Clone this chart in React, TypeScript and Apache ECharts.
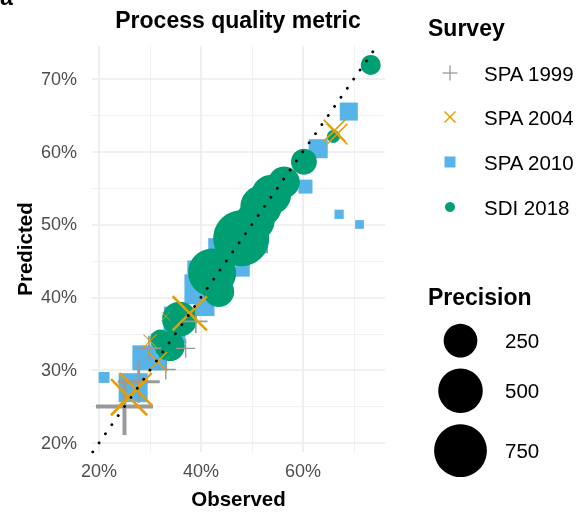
import React, { useEffect, useRef } from "react";
import * as echarts from "echarts";

const FONT = '"Liberation Sans", Arial, Helvetica, sans-serif';

// [observed %, predicted %, precision]
const spa1999: number[][] = [
  [25.0, 25.0, 897],
  [27.8, 28.4, 435],
  [29.8, 33.0, 111],
  [33.1, 30.1, 56],
  [37.0, 33.0, 48],
  [39.0, 36.7, 90],
];
const spa2004: number[][] = [
  [25.9, 26.3, 340],
  [27.2, 27.4, 256],
  [31.5, 31.2, 56],
  [30.0, 34.0, 15],
  [33.1, 37.4, 1],
  [37.8, 37.8, 296],
  [66.2, 62.9, 87],
  [66.7, 62.4, 75],
];
const spa2010: number[][] = [
  [69.0, 65.5, 40],
  [63.0, 60.4, 48],
  [60.5, 55.2, 15],
  [67.1, 51.4, 1],
  [71.1, 50.0, 0.5],
  [49.1, 48.1, 32],
  [51.2, 47.4, 56],
  [48.2, 43.8, 15],
  [45.9, 48.9, 11],
  [42.6, 47.3, 7],
  [38.7, 44.1, 15],
  [39.7, 41.1, 184],
  [40.7, 38.8, 56],
  [33.9, 37.9, 7],
  [34.8, 35.2, 76],
  [31.3, 34.2, 7],
  [29.0, 31.7, 111],
  [31.9, 31.0, 20],
  [26.7, 27.6, 168],
  [21.0, 29.0, 4],
];
const sdi2018: number[][] = [
  [73.3, 71.9, 56],
  [66.0, 62.1, 11],
  [60.2, 58.6, 124],
  [56.3, 55.8, 210],
  [53.8, 54.1, 380],
  [51.8, 52.5, 420],
  [50.6, 50.5, 370],
  [50.0, 49.7, 250],
  [47.9, 48.1, 860],
  [42.2, 43.4, 600],
  [43.5, 40.8, 200],
  [35.8, 37.0, 275],
  [34.2, 37.4, 20],
  [33.9, 33.3, 184],
  [32.0, 34.2, 56],
];

const xTicks = [20, 40, 60];
const yTicks = [20, 30, 40, 50, 60, 70];
const xMinor = [30, 50, 70];
const yMinor = [25, 35, 45, 55, 65];
const precisionBreaks = [250, 500, 750];
const surveyNames = ["SPA 1999", "SPA 2004", "SPA 2010", "SDI 2018"];

const X_MIN = 18.63, X_MAX = 76.1, Y_MIN = 18.77, Y_MAX = 74.5;

const sizeOf = (p: number) => 7.6 + 1.65 * Math.sqrt(p);

const PLUS = "path://M46.5,0 L53.5,0 L53.5,46.5 L100,46.5 L100,53.5 L53.5,53.5 L53.5,100 L46.5,100 L46.5,53.5 L0,53.5 L0,46.5 L46.5,46.5 Z";
const d = 5;
const CROSS = `path://M0,${d} L${d},0 L50,${50 - d} L${100 - d},0 L100,${d} L${50 + d},50 L100,${100 - d} L${100 - d},100 L50,${50 + d} L${d},100 L0,${100 - d} L${50 - d},50 Z`;

export default function App() {
  const ref = useRef<HTMLDivElement>(null);
  useEffect(() => {
    if (!ref.current) return;
    const chart = echarts.init(ref.current, null, { renderer: "svg" });
    const major = { color: "#EBEBEB", width: 1.6, type: "solid" };
    const minor = { color: "#EFEFEF", width: 0.9, type: "solid" };
    const gridLines = [
      ...xTicks.map((v) => ({ xAxis: v, lineStyle: major })),
      ...xMinor.map((v) => ({ xAxis: v, lineStyle: minor })),
      ...yTicks.map((v) => ({ yAxis: v, lineStyle: major })),
      ...yMinor.map((v) => ({ yAxis: v, lineStyle: minor })),
    ];
    const legendY = [73, 117, 162, 207];
    const colors = ["#999999", "#E69F00", "#56B4E9", "#009E73"];
    const precY = [340.7, 390.7, 450.7];
    const graphic: any[] = [
      { type: "text", x: 0, y: -3, style: { text: "a", font: `bold 23px ${FONT}`, fill: "#000", verticalAlign: "middle" } },
      { type: "text", x: 238, y: 20, style: { text: "Process quality metric", font: `bold 23px ${FONT}`, fill: "#000", align: "center", verticalAlign: "middle" } },
      { type: "text", x: 428, y: 28, style: { text: "Survey", font: `bold 23px ${FONT}`, fill: "#000", verticalAlign: "middle" } },
      { type: "line", shape: { x1: 442.5, y1: 73, x2: 457.5, y2: 73 }, style: { stroke: colors[0], lineWidth: 1.3 } },
      { type: "line", shape: { x1: 450, y1: 65.5, x2: 450, y2: 80.5 }, style: { stroke: colors[0], lineWidth: 1.3 } },
      { type: "line", shape: { x1: 444.5, y1: 111.5, x2: 455.5, y2: 122.5 }, style: { stroke: colors[1], lineWidth: 1.5 } },
      { type: "line", shape: { x1: 444.5, y1: 122.5, x2: 455.5, y2: 111.5 }, style: { stroke: colors[1], lineWidth: 1.5 } },
      { type: "rect", shape: { x: 444.5, y: 156.5, width: 11, height: 11 }, style: { fill: colors[2] } },
      { type: "circle", shape: { cx: 450, cy: 207, r: 5 }, style: { fill: colors[3] } },
      ...surveyNames.map((n, i) => ({ type: "text", x: 484, y: legendY[i], style: { text: n, font: `20.5px ${FONT}`, fill: "#000", verticalAlign: "middle" } })),
      { type: "text", x: 428, y: 297, style: { text: "Precision", font: `bold 23px ${FONT}`, fill: "#000", verticalAlign: "middle" } },
      ...precisionBreaks.map((p, i) => ({ type: "circle", shape: { cx: 460.5, cy: precY[i], r: sizeOf(p) / 2 }, style: { fill: "#000" } })),
      ...precisionBreaks.map((p, i) => ({ type: "text", x: 505, y: precY[i], style: { text: String(p), font: `20.5px ${FONT}`, fill: "#000", verticalAlign: "middle" } })),
    ];
    const symSize = (v: number[]) => sizeOf(v[2]);
    chart.setOption({
      animation: false,
      grid: { left: 92, top: 46, width: 293, height: 407 },
      xAxis: {
        type: "value", min: X_MIN, max: X_MAX,
        axisLine: { show: false }, axisTick: { show: false }, splitLine: { show: false },
        axisLabel: { customValues: xTicks, formatter: (v: number) => `${Math.round(v)}%`, color: "#4D4D4D", fontSize: 18, fontFamily: FONT, margin: 10 },
        name: "Observed", nameLocation: "middle", nameGap: 36,
        nameTextStyle: { fontWeight: "bold", fontSize: 20.5, color: "#000", fontFamily: FONT },
      },
      yAxis: {
        type: "value", min: Y_MIN, max: Y_MAX,
        axisLine: { show: false }, axisTick: { show: false }, splitLine: { show: false },
        axisLabel: { customValues: yTicks, formatter: (v: number) => `${Math.round(v)}%`, color: "#4D4D4D", fontSize: 18, fontFamily: FONT, margin: 15 },
        name: "Predicted", nameLocation: "middle", nameGap: 57, nameRotate: 90,
        nameTextStyle: { fontWeight: "bold", fontSize: 20.5, color: "#000", fontFamily: FONT },
      },
      graphic,
      series: [
        { type: "scatter", name: "grid", data: [], z: 0, silent: true,
          markLine: { silent: true, z: 0, symbol: ["none", "none"], label: { show: false }, animation: false, data: gridLines } },
        { type: "scatter", name: "SPA 2010", data: spa2010, symbol: "rect", symbolSize: symSize, itemStyle: { color: colors[2], opacity: 1 }, z: 3 },
        { type: "scatter", name: "SDI 2018", data: sdi2018, symbol: "circle", symbolSize: symSize, itemStyle: { color: colors[3], opacity: 1 }, z: 4 },
        { type: "scatter", name: "SPA 1999", data: spa1999, symbol: PLUS, symbolSize: symSize, itemStyle: { color: colors[0], opacity: 1 }, z: 5 },
        { type: "scatter", name: "SPA 2004", data: spa2004, symbol: CROSS, symbolSize: symSize, itemStyle: { color: colors[1], opacity: 1 }, z: 6 },
        { type: "line", name: "identity", data: [[Y_MIN, Y_MIN], [Y_MAX, Y_MAX]], symbol: "none", z: 7, silent: true,
          lineStyle: { color: "#000", width: 2.8, type: [0.1, 11], cap: "round" } },
      ],
    });
    return () => chart.dispose();
  }, []);
  return <div ref={ref} style={{ position: "fixed", left: 0, top: 0, width: 587, height: 514 }} />;
}
